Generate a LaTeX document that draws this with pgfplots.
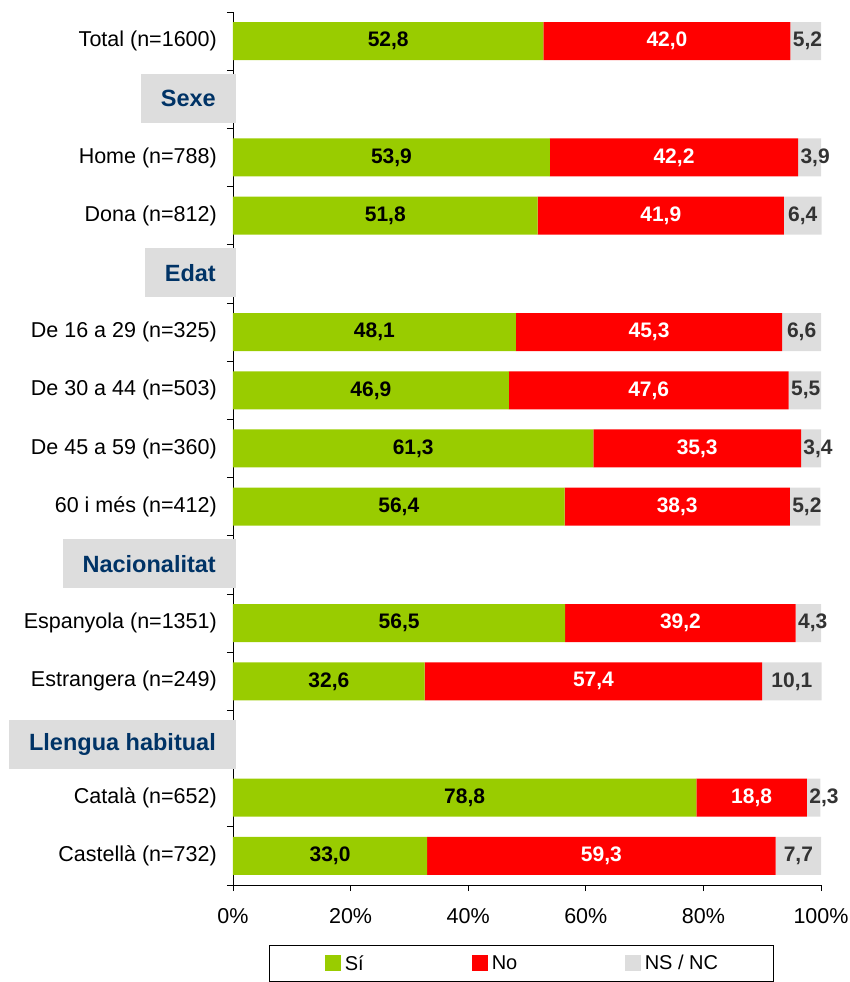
\documentclass[border=0pt]{standalone}
\usepackage{pgfplots}
\usepackage{pgfplotstable}
\pgfplotsset{compat=1.18}
\usepackage{fontspec}
\setmainfont{Liberation Sans}
\definecolor{cgreen}{HTML}{99CC00}
\definecolor{cred}{HTML}{FF0000}
\definecolor{cgray}{HTML}{DDDDDD}
\definecolor{cblue}{HTML}{003366}
\definecolor{cdark}{HTML}{333333}

\tikzset{hdr/.style={anchor=east, fill=cgray, inner xsep=20pt, inner ysep=0pt,
    minimum height=49pt, text=cblue, font=\fontsize{23.5}{28}\selectfont\bfseries}}

\pgfplotsset{
  frame/.style={at={(0,0)}, anchor=south west,
    width=588pt, height=873pt, scale only axis,
    xmin=0, xmax=100, ymin=-0.5, ymax=14.5, clip=false},
  vlabel/.style={only marks, mark=none,
    nodes near coords={\pgfmathprintnumber[fixed,fixed zerofill,precision=1,use comma,assume math mode=true]{\pgfplotspointmeta}},
    every node near coord/.append style={anchor=center, text=#1, inner sep=0pt,
      font=\fontsize{21}{25}\selectfont\bfseries}},
}

\pgfplotstableread{
y si no ns
14 52.8 42.0 5.2
12 53.9 42.2 3.9
11 51.8 41.9 6.4
9 48.1 45.3 6.6
8 46.9 47.6 5.5
7 61.3 35.3 3.4
6 56.4 38.3 5.2
4 56.5 39.2 4.3
3 32.6 57.4 10.1
1 78.8 18.8 2.3
0 33.0 59.3 7.7
}\datatable

\begin{document}
\begin{tikzpicture}
\begin{axis}[
  frame,
  xbar stacked, bar width=38pt,
  axis lines*=left,
  axis line style={black, line width=0.8pt},
  xtick={0,20,...,100},
  minor xtick={0,20,...,100},
  ytick={0,...,14},
  minor ytick={-0.5,0.5,...,14.5},
  major tick length=0pt, minor tick length=6pt,
  tick align=outside,
  tick style={black, line width=0.8pt},
  /pgf/number format/assume math mode=true,
  xticklabel={\pgfmathprintnumber{\tick}\%},
  yticklabels={Castellà (n=732), Català (n=652), {}, Estrangera (n=249), Espanyola (n=1351), {}, 60 i més (n=412), De 45 a 59 (n=360), De 30 a 44 (n=503), De 16 a 29 (n=325), {}, Dona (n=812), Home (n=788), {}, Total (n=1600)},
  tick label style={font=\fontsize{21.5}{25}\selectfont},
  yticklabel style={inner sep=0pt, anchor=east, xshift=-16pt},
  xticklabel style={inner sep=0pt, anchor=north, yshift=-23pt},
  legend columns=3,
  legend cell align=left,
  legend style={
    at={(0.4906,-0.0687)}, anchor=north,
    draw=black, line width=0.6pt,
    inner xsep=55pt, inner ysep=10pt,
    font=\fontsize{20}{24}\selectfont,
    nodes={inner sep=0pt},
    /tikz/every odd column/.append style={column sep=4pt},
  },
  legend image code/.code={\fill[#1,draw=none] (0pt,-8pt) rectangle (16pt,8pt);},
]
\addplot[fill=cgreen, draw=none] table[x=si, y=y] {\datatable};
\addlegendentry{\makebox[127pt][l]{Sí}}
\addplot[fill=cred, draw=none] table[x=no, y=y] {\datatable};
\addlegendentry{\makebox[133pt][l]{No}}
\addplot[fill=cgray, draw=none] table[x=ns, y=y] {\datatable};
\addlegendentry{NS / NC\rule[-16pt]{0pt}{1pt}}

\node[hdr] at (axis cs:0,13) [xshift=3pt, yshift=1pt] {Sexe};
\node[hdr] at (axis cs:0,10) [xshift=3pt, yshift=1pt] {Edat};
\node[hdr] at (axis cs:0,5) [xshift=3pt, yshift=1pt] {Nacionalitat};
\node[hdr] at (axis cs:0,2) [xshift=3pt, yshift=-5pt] {Llengua habitual};
\end{axis}
\begin{axis}[frame, hide axis]
\addplot[vlabel=black, point meta=\thisrow{si}]
  table[x expr=\thisrow{si}/2, y=y] {\datatable};
\addplot[vlabel=white, point meta=\thisrow{no}]
  table[x expr=\thisrow{si}+\thisrow{no}/2, y=y] {\datatable};
\addplot[vlabel=cdark, point meta=\thisrow{ns}]
  table[x expr={\thisrow{si}+\thisrow{no}+max(\thisrow{ns}/2,2.9)}, y=y] {\datatable};
\end{axis}
\pgfresetboundingbox
\path[use as bounding box] (-233pt,-97pt) rectangle (617pt,885pt);
\end{tikzpicture}
\end{document}
